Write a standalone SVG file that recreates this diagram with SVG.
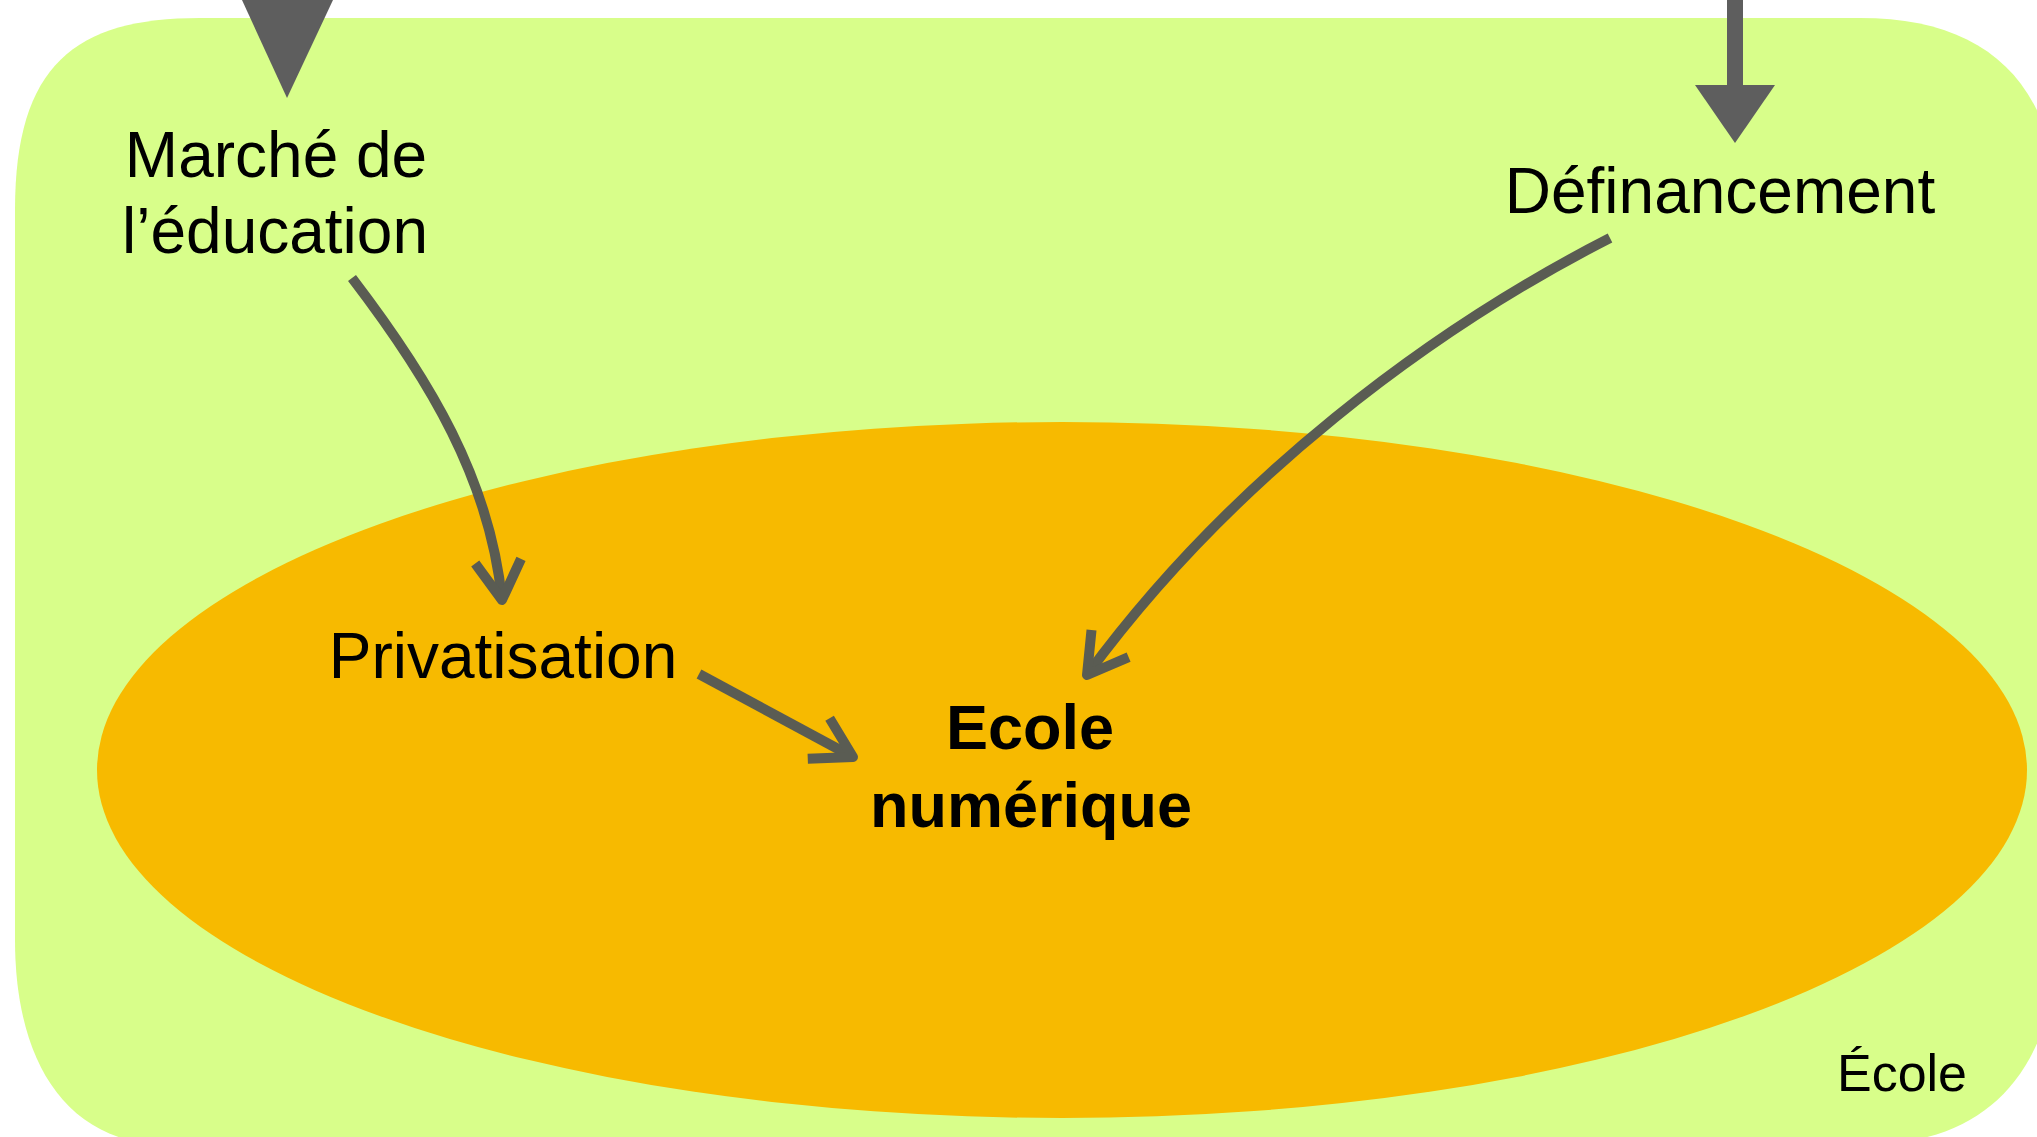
<svg xmlns="http://www.w3.org/2000/svg" width="2037" height="1137" viewBox="0 0 2037 1137">
<style>
.lbl{font-family:"Liberation Sans",Arial,sans-serif;font-size:64px;fill:#000;text-anchor:middle}
.bold{font-weight:bold;font-size:63px}
.small{font-size:52px}
.conn{fill:none;stroke:#5A5C53;stroke-width:10;stroke-linecap:butt}
.ext{fill:#5E5E5E}
</style>
<defs>
<marker id="open" markerUnits="userSpaceOnUse" orient="auto" viewBox="-50 -30 60 60" markerWidth="60" markerHeight="60" refX="0" refY="0" overflow="visible">
<path d="M-39,-23 L0,0 L-39,23" fill="none" stroke="#5A5C53" stroke-width="10" stroke-linejoin="round" stroke-linecap="butt"/>
</marker>
</defs>
<rect width="2037" height="1137" fill="#FFFFFF"/>
<g id="ecole">
<path d="M15,210 C15,65 75,18 200,18 L1860,18 C1995,18 2062,90 2062,240 L2062,900 C2062,1060 2000,1145 1860,1145 L170,1145 C65,1145 15,1060 15,940 Z" fill="#D8FE8A"/>
<text class="lbl small" x="1902" y="1091">École</text>
</g>
<g id="ecole-numerique">
<ellipse cx="1062" cy="770" rx="965" ry="348" fill="#F7BA00"/>
<text class="lbl bold" x="1030" y="749">Ecole</text>
<text class="lbl bold" x="1031" y="827">numérique</text>
</g>
<g id="marche">
<text class="lbl" x="276" y="177">Marché de</text>
<text class="lbl" x="275" y="253">l’éducation</text>
</g>
<g id="definancement">
<text class="lbl" x="1720" y="213">Définancement</text>
</g>
<g id="privatisation">
<text class="lbl" x="503" y="678">Privatisation</text>
</g>
<g id="connectors">
<polygon class="ext" points="242,0 333,0 287,98"/>
<rect class="ext" x="1727" y="0" width="16" height="86"/>
<polygon class="ext" points="1695,85 1775,85 1735,143"/>
<path class="conn" d="M352,278 C430,380 490,480 502,600" marker-end="url(#open)"/>
<path class="conn" d="M1610,238 C1430,330 1230,480 1087,675" marker-end="url(#open)"/>
<path class="conn" d="M699,674 L853,757" marker-end="url(#open)"/>
</g>
</svg>
